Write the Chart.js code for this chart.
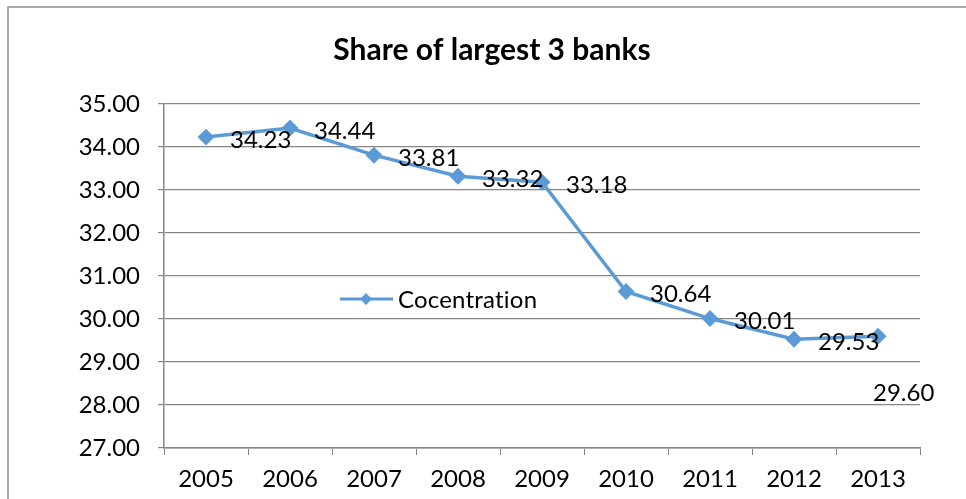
<!DOCTYPE html>
<html>
<head>
<meta charset="utf-8">
<script src="https://cdn.jsdelivr.net/npm/chart.js@4.4.1/dist/chart.umd.min.js"></script>
<style>
  html, body { margin: 0; padding: 0; background: #fff; }
  #wrap { position: relative; width: 966px; height: 499px; }
</style>
</head>
<body>
<div id="wrap"><canvas id="this-graph" width="966" height="499"></canvas></div>
<script>
const years = ["2005", "2006", "2007", "2008", "2009", "2010", "2011", "2012", "2013"];
const concentration = [34.23, 34.44, 33.81, 33.32, 33.18, 30.64, 30.01, 29.53, 29.60];
const seriesName = "Cocentration";
const chartTitle = "Share of largest 3 banks";

const lineColor = "#5b9bd5";
const gridColor = "#868686";
const fontFamily = "Lato, 'Liberation Sans', sans-serif";
const textSize = 24;

// outer frame of the chart object (top and left edges)
const framePlugin = {
    id: "frame",
    beforeDraw(chart) {
        const ctx = chart.ctx;
        ctx.save();
        ctx.strokeStyle = "#8c8c8c";
        ctx.lineWidth = 1.5;
        ctx.beginPath();
        ctx.moveTo(8, chart.height);
        ctx.lineTo(8, 7);
        ctx.lineTo(chart.width, 7);
        ctx.stroke();
        ctx.restore();
    }
};

// value labels next to each marker
const valueLabels = {
    id: "valueLabels",
    afterDatasetsDraw(chart) {
        const ctx = chart.ctx;
        const meta = chart.getDatasetMeta(0);
        const data = chart.data.datasets[0].data;
        ctx.save();
        ctx.font = textSize + "px " + fontFamily;
        ctx.fillStyle = "#000";
        ctx.textBaseline = "middle";
        ctx.textAlign = "left";
        meta.data.forEach(function (pt, i) {
            var dx = 24, dy = 3;
            // last label was dragged below the line
            if (i == data.length - 1) { dx = -5; dy = 57; }
            ctx.fillText(data[i].toFixed(2), pt.x + dx, pt.y + dy);
        });
        ctx.restore();
    }
};

// legend sits inside the plot area
const innerLegend = {
    id: "innerLegend",
    afterDraw(chart) {
        const ctx = chart.ctx;
        const x = 340, y = 299;
        ctx.save();
        ctx.strokeStyle = lineColor;
        ctx.lineWidth = 3;
        ctx.beginPath();
        ctx.moveTo(x, y);
        ctx.lineTo(x + 53, y);
        ctx.stroke();
        ctx.fillStyle = lineColor;
        ctx.beginPath();
        ctx.moveTo(x + 26, y - 6);
        ctx.lineTo(x + 32, y);
        ctx.lineTo(x + 26, y + 6);
        ctx.lineTo(x + 20, y);
        ctx.closePath();
        ctx.fill();
        ctx.font = textSize + "px " + fontFamily;
        ctx.fillStyle = "#000";
        ctx.textBaseline = "middle";
        ctx.letterSpacing = "0.2px";
        ctx.fillText(seriesName, x + 58, y + 1);
        ctx.restore();
    }
};

function createGraph(id) {
    var graph = document.getElementById(id);
    return new Chart(graph, {
        type: "line",
        data: {
            labels: years,
            datasets: [{
                label: seriesName,
                data: concentration,
                borderColor: lineColor,
                backgroundColor: lineColor,
                borderWidth: 3.5,
                pointStyle: "rectRot",
                pointRadius: 6,
                pointHoverRadius: 6,
                lineTension: 0,
                fill: false
            }]
        },
        options: {
            responsive: false,
            animation: false,
            layout: { padding: { left: 64, right: 46, top: 0, bottom: 0 } },
            plugins: {
                legend: { display: false },
                tooltip: { enabled: false },
                title: {
                    display: true,
                    text: chartTitle,
                    color: "#000",
                    font: { family: fontFamily, size: 30, weight: "bold" },
                    padding: { top: 32, bottom: 36 }
                }
            },
            scales: {
                x: {
                    offset: true,
                    grid: {
                        offset: true,
                        drawOnChartArea: false,
                        drawTicks: true,
                        tickLength: 7,
                        color: gridColor
                    },
                    border: { color: gridColor, width: 1.5 },
                    ticks: {
                        color: "#000",
                        padding: 10,
                        maxRotation: 0,
                        font: { family: fontFamily, size: textSize }
                    },
                    afterFit(scale) { scale.height = 51; }
                },
                y: {
                    min: 27,
                    max: 35,
                    grid: { color: gridColor, lineWidth: 1.2, tickLength: 6 },
                    border: { color: gridColor, width: 1.5 },
                    ticks: {
                        stepSize: 1,
                        color: "#000",
                        padding: 18,
                        font: { family: fontFamily, size: textSize },
                        callback: function (v) { return v.toFixed(2); }
                    },
                    afterFit(scale) { scale.width = 100; }
                }
            }
        },
        plugins: [framePlugin, valueLabels, innerLegend]
    });
}

createGraph("this-graph");
</script>
</body>
</html>
